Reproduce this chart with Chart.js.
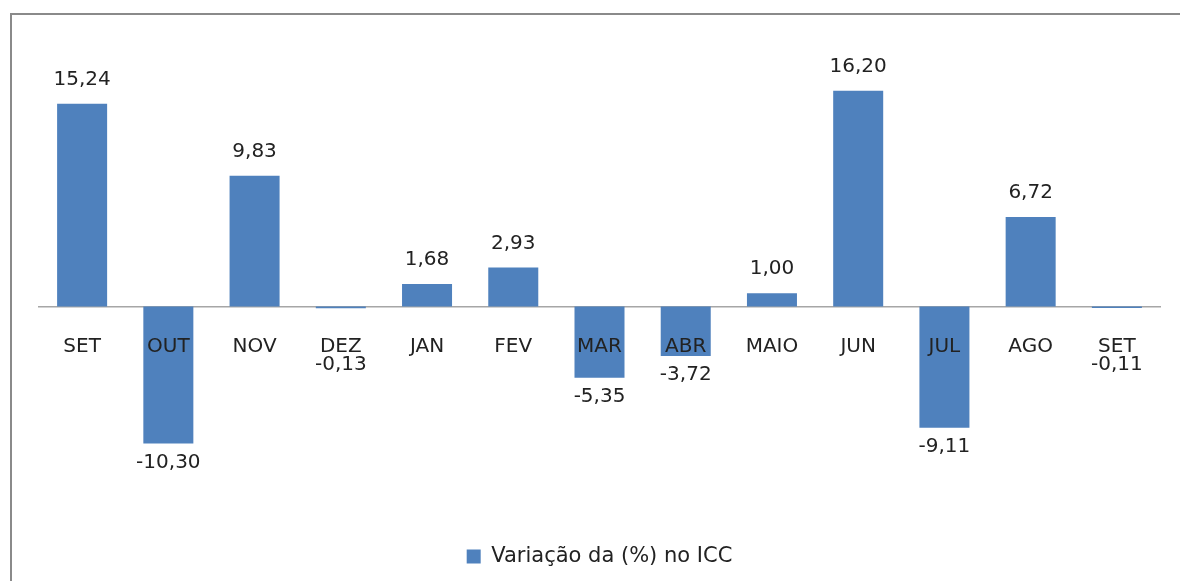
<!DOCTYPE html>
<html>
<head>
<meta charset="utf-8">
<script src="https://cdn.jsdelivr.net/npm/chart.js@4.4.1/dist/chart.umd.min.js"></script>
<style>
  html, body { margin: 0; padding: 0; background: #fff; overflow: hidden; width: 1180px; height: 581px; }
  #frame { position: absolute; left: 10px; top: 13px; width: 1200px; height: 620px; border: 2px solid #8a8a8a; box-sizing: border-box; }
  #wrap { position: absolute; left: 12px; top: 15px; width: 1182px; height: 566px; }
</style>
</head>
<body>
<div id="frame"></div>
<div id="wrap"><canvas id="c" width="1182" height="566"></canvas></div>
<script>
const categories = ["SET", "OUT", "NOV", "DEZ", "JAN", "FEV", "MAR", "ABR", "MAIO", "JUN", "JUL", "AGO", "SET"];
const variacao = [15.24, -10.30, 9.83, -0.13, 1.68, 2.93, -5.35, -3.72, 1.00, 16.20, -9.11, 6.72, -0.11];
const seriesName = "Variação da (%) no ICC";

const FONT = "'DejaVu Sans', sans-serif";
const TEXT = "#222222";
const BAR = "#4F81BD";

const fmt = v => v.toFixed(2).replace('.', ',');

const valueLabels = {
  id: 'valueLabels',
  afterDatasetsDraw(chart) {
    const ctx = chart.ctx;
    const meta = chart.getDatasetMeta(0);
    const zeroY = chart.scales.y.getPixelForValue(0);
    ctx.save();
    ctx.font = "20px " + FONT;
    ctx.fillStyle = TEXT;
    ctx.textAlign = 'center';
    ctx.textBaseline = 'middle';
    meta.data.forEach((bar, i) => {
      const v = variacao[i];
      let y;
      if (v >= 0) {
        y = bar.y - 24;
      } else {
        y = Math.max(bar.y + 19, zeroY + 58);
      }
      ctx.fillText(fmt(v), bar.x, y);
    });
    ctx.restore();
  }
};

new Chart(document.getElementById('c'), {
  type: 'bar',
  data: {
    labels: categories,
    datasets: [{
      label: seriesName,
      data: variacao,
      backgroundColor: BAR,
      borderWidth: 0,
      barPercentage: 0.58,
      categoryPercentage: 1.0
    }]
  },
  options: {
    responsive: false,
    animation: false,
    devicePixelRatio: 1,
    layout: { padding: { left: 27, right: 34, top: 12, bottom: 4 } },
    scales: {
      x: {
        position: { y: 0 },
        grid: { display: false, drawTicks: false },
        border: { display: true, color: '#a6a6a6', width: 1.5, z: 0 },
        ticks: { z: 1, color: TEXT, font: { family: FONT, size: 20 }, padding: 28, maxRotation: 0, autoSkip: false }
      },
      y: {
        display: false,
        min: -17.25,
        max: 21,
        grid: { display: false }
      }
    },
    plugins: {
      legend: {
        display: true,
        position: 'bottom',
        labels: {
          color: TEXT,
          font: { family: FONT, size: 21 },
          boxWidth: 14,
          boxHeight: 14,
          padding: 10
        }
      },
      tooltip: { enabled: false }
    }
  },
  plugins: [valueLabels]
});
</script>
</body>
</html>
